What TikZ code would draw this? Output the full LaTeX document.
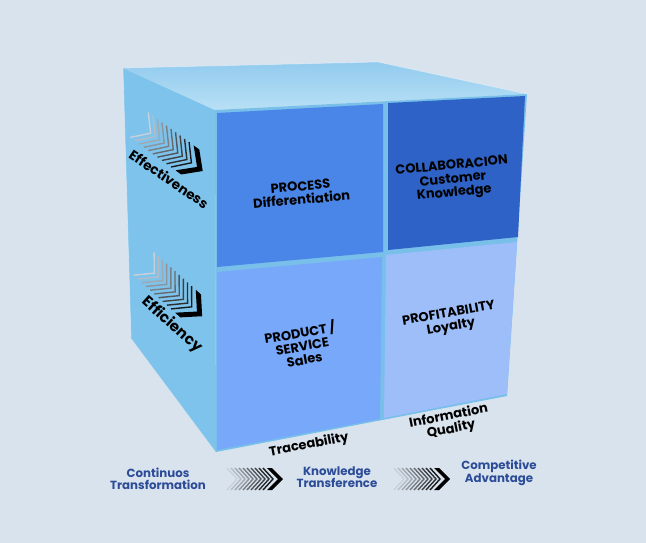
\documentclass[tikz,border=0pt]{standalone}
\usepackage{fontspec}
\setmainfont{Poppins}
\usetikzlibrary{calc}
\definecolor{bgc}{HTML}{D9E3EE}
\definecolor{leftc}{HTML}{7EC3EB}
\definecolor{framec}{HTML}{78BFEA}
\definecolor{topa}{HTML}{92CBEE}
\definecolor{topb}{HTML}{B8E0F5}
\definecolor{ptl}{HTML}{4A86E8}
\definecolor{ptr}{HTML}{2E62C6}
\definecolor{pbl}{HTML}{78A8FA}
\definecolor{pbr}{HTML}{9EBEFA}
\definecolor{navy}{HTML}{2C4C98}
\begin{document}
\begin{tikzpicture}[x=1pt,y=-1pt,
  paneltext/.style={font=\fontsize{13}{13.5}\selectfont\bfseries, align=center, text=black, inner sep=0pt},
  sidetext/.style={font=\fontsize{13.5}{14}\selectfont\bfseries, text=black, inner sep=0pt},
  flowtext/.style={font=\fontsize{11.8}{12.5}\selectfont\bfseries, align=center, text=navy, inner sep=0pt},
  chev/.pic={
    \foreach \i in {0,...,9}{
      \pgfmathtruncatemacro\g{8+\i*9}
      \draw[line width=1.4pt, black!\g!bgc] ({-28+\i*4},-11) -- ({-18+\i*4},0) -- ({-28+\i*4},11);
    }
    \fill[black] (12,-11) -- (17,-11) -- (28,0) -- (17,11) -- (12,11) -- (23,0) -- cycle;
  }]
\fill[bgc] (0,0) rectangle (646,543);
\useasboundingbox (0,0) rectangle (646,543);
% cube corners
\coordinate (BTL) at (123,68);
\coordinate (BTR) at (378,62);
\coordinate (FTL) at (215,110);
\coordinate (FTR) at (527,94);
\coordinate (FBR) at (507,396);
\coordinate (FBL) at (216,452);
\coordinate (LBL) at (131,338);
% faces
\fill[leftc] (BTL) -- (FTL) -- (FBL) -- (LBL) -- cycle;
\shade[top color=topa, bottom color=topb] (BTL) -- (BTR) -- (FTR) -- (FTL) -- cycle;
\fill[framec] (FTL) -- (FTR) -- (FBR) -- (FBL) -- cycle;
\draw[white, opacity=0.35, line width=0.8pt] (LBL) -- (BTL) -- (BTR) -- (FTR);
% panels
\fill[ptl] (217,113) -- (383,104) -- (383,252) -- (217,267) -- cycle;
\fill[ptr] (388,103) -- (525,96) -- (518,237) -- (388,250) -- cycle;
\fill[pbl] (217,272) -- (382,257) -- (380,419) -- (217,450) -- cycle;
\fill[pbr] (386,255) -- (517,242) -- (507,394) -- (384,418) -- cycle;
% panel texts
\node[paneltext, rotate=5] (process) at (301,193) {PROCESS\\Differentiation};
\node[paneltext, rotate=5.5] (collab) at (453,180) {COLLABORACION\\Customer\\Knowledge};
\node[paneltext, rotate=10] (product) at (302,345) {PRODUCT /\\SERVICE\\Sales};
\node[paneltext, rotate=10] (profit) at (450,321) {PROFITABILITY\\Loyalty};
\node[paneltext, rotate=11] (trace) at (309,445) {Traceability};
\node[paneltext, rotate=11] (info) at (450,423) {Information\\Quality};
% left face
\pic[rotate=-36, scale=1.4] at (171,148) {chev};
\pic[rotate=-42, scale=1.4] at (173,290) {chev};
\node[sidetext, rotate=-34] (effect) at (169,179) {Effectiveness};
\node[sidetext, font=\fontsize{15}{16}\selectfont\bfseries, rotate=-42] (effic) at (172,325) {Efficiency};
% bottom flow
\node[flowtext] (cont) at (158,479) {Continuos\\Transformation};
\node[flowtext] (know) at (337,477) {Knowledge\\Transference};
\node[flowtext] (comp) at (499,473) {Competitive\\Advantage};
\pic at (255,479) {chev};
\pic at (422,479) {chev};
\end{tikzpicture}
\end{document}
